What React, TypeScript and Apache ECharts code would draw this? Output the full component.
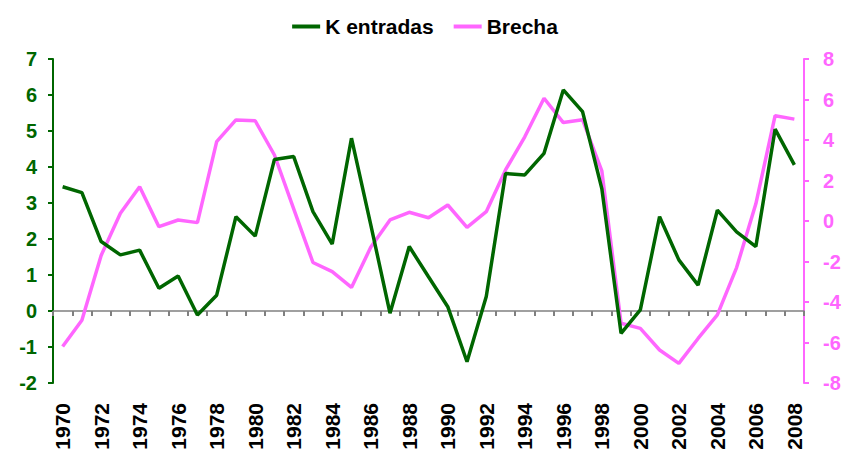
import React, { useEffect, useRef } from "react";
import * as echarts from "echarts";

const years: string[] = [
  "1970","1971","1972","1973","1974","1975","1976","1977","1978","1979",
  "1980","1981","1982","1983","1984","1985","1986","1987","1988","1989",
  "1990","1991","1992","1993","1994","1995","1996","1997","1998","1999",
  "2000","2001","2002","2003","2004","2005","2006","2007","2008",
];

const kEntradas: number[] = [
  3.45, 3.29, 1.93, 1.56, 1.69, 0.63, 0.97, -0.11, 0.44, 2.62,
  2.08, 4.21, 4.29, 2.76, 1.86, 4.8, 2.4, -0.06, 1.79, 0.95,
  0.12, -1.41, 0.4, 3.82, 3.78, 4.38, 6.14, 5.54, 3.4, -0.62,
  0.03, 2.62, 1.42, 0.72, 2.8, 2.2, 1.79, 5.05, 4.06,
];

const brecha: number[] = [
  -6.2, -4.9, -1.7, 0.38, 1.69, -0.28, 0.05, -0.08, 3.92, 4.99,
  4.95, 3.26, 0.6, -2.05, -2.5, -3.28, -1.3, 0.05, 0.43, 0.16,
  0.79, -0.31, 0.46, 2.52, 4.16, 6.06, 4.86, 5.0, 2.48, -5.05,
  -5.3, -6.37, -7.03, -5.8, -4.64, -2.3, 0.85, 5.2, 5.03,
];

const GREEN = "#006600";
const PINK = "#ff66ff";
const FONT = "'Liberation Sans', Arial, sans-serif";

export default function App() {
  const ref = useRef<HTMLDivElement>(null);

  useEffect(() => {
    document.body.style.margin = "0";
    if (!ref.current) return;
    const chart = echarts.init(ref.current, null, { renderer: "svg" });
    chart.setOption({
      animation: false,
      textStyle: { fontFamily: FONT },
      legend: {
        top: 11,
        left: "center",
        itemWidth: 28,
        itemHeight: 4,
        itemGap: 20,
        icon: "rect",
        textStyle: { fontFamily: FONT, fontWeight: "bold", fontSize: 21, color: "#000" },
        data: [
          { name: "K entradas", itemStyle: { color: GREEN } },
          { name: "Brecha", itemStyle: { color: PINK } },
        ],
      },
      grid: { left: 53, right: 46, top: 59, bottom: 79, containLabel: false },
      xAxis: [
        {
          type: "category",
          data: years,
          boundaryGap: true,
          axisLine: { show: true, onZero: true, onZeroAxisIndex: 0, lineStyle: { color: "#808080", width: 1.5 } },
          axisTick: { show: true, interval: 0, length: 5, lineStyle: { color: "#808080", width: 2 } },
          axisLabel: { show: false },
          splitLine: { show: false },
        },
        {
          type: "category",
          data: years,
          position: "bottom",
          boundaryGap: true,
          axisLine: { show: false, onZero: false },
          axisTick: { show: false },
          axisLabel: {
            show: true,
            interval: 1,
            rotate: 90,
            margin: 20,
            fontFamily: FONT,
            fontWeight: "bold",
            fontSize: 21,
            color: "#000",
          },
          splitLine: { show: false },
        },
      ],
      yAxis: [
        {
          type: "value",
          min: -2,
          max: 7,
          interval: 1,
          position: "left",
          axisLine: { show: true, lineStyle: { color: GREEN, width: 2 } },
          axisTick: { show: true, length: 5, lineStyle: { color: GREEN, width: 2 } },
          axisLabel: { fontFamily: FONT, fontWeight: "bold", fontSize: 20, color: GREEN, margin: 16 },
          splitLine: { show: false },
        },
        {
          type: "value",
          min: -8,
          max: 8,
          interval: 2,
          position: "right",
          axisLine: { show: true, lineStyle: { color: PINK, width: 2 } },
          axisTick: { show: true, length: 5, lineStyle: { color: PINK, width: 2 } },
          axisLabel: { fontFamily: FONT, fontWeight: "bold", fontSize: 20, color: PINK, margin: 19 },
          splitLine: { show: false },
        },
      ],
      series: [
        {
          name: "K entradas",
          type: "line",
          xAxisIndex: 0,
          yAxisIndex: 0,
          data: kEntradas,
          showSymbol: false,
          symbol: "none",
          lineStyle: { color: GREEN, width: 3.5 },
          itemStyle: { color: GREEN },
          z: 3,
        },
        {
          name: "Brecha",
          type: "line",
          xAxisIndex: 0,
          yAxisIndex: 1,
          data: brecha,
          showSymbol: false,
          symbol: "none",
          lineStyle: { color: PINK, width: 3.5 },
          itemStyle: { color: PINK },
          z: 2,
        },
      ],
    });
    return () => chart.dispose();
  }, []);

  return <div ref={ref} style={{ width: 850, height: 462 }} />;
}
